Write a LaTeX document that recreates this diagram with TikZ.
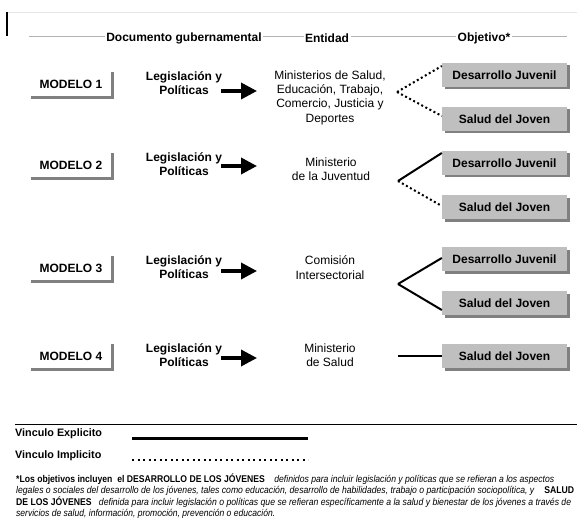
\documentclass[tikz,border=0pt]{standalone}
\usepackage{fontspec}
\setmainfont{Liberation Sans}
\usetikzlibrary{shadows,arrows.meta,calc}
\begin{document}
\begin{tikzpicture}[x=1pt,y=-1pt,
  every node/.style={inner sep=0pt},
  modelbox/.style={minimum width=80pt,minimum height=24pt,font=\bfseries\fontsize{12}{14}\selectfont},
  modelshadow/.style={draw=gray,line width=2.5pt},
  legis/.style={align=center,font=\bfseries\fontsize{12}{14.3}\selectfont},
  entity/.style={align=center,font=\fontsize{12}{14.3}\selectfont},
  objbox/.style={fill=gray!50,minimum width=125pt,minimum height=24pt,font=\bfseries\fontsize{12}{14}\selectfont,
    drop shadow={shadow xshift=2.5pt,shadow yshift=-2.5pt,fill=gray,opacity=1}},
  bigarrow/.style={line width=3.5pt,-{Triangle[length=16pt,width=16pt]}},
  explicit/.style={line width=2pt},
  implicit/.style={line width=2pt,dash pattern=on 2pt off 2.6pt},
  header/.style={font=\bfseries\fontsize{12}{14}\selectfont,fill=white,inner xsep=1.5pt,inner ysep=1pt},
  legendtext/.style={anchor=west,font=\bfseries\fontsize{10.8}{12}\selectfont},
  foot/.style={anchor=west,font=\fontsize{9.8}{11}\selectfont},
]
\useasboundingbox (0,0) rectangle (577,529);
\fill[white] (0,0) rectangle (577,529);

% top rules
\coordinate (t0) at (8,12);
\coordinate (t1) at (577,12);
\draw[gray!20,line width=0.6pt] (t0) -- (t1);
\coordinate (v0) at (7,12);
\coordinate (v1) at (7,36);
\draw[black,line width=1.5pt] (v0) -- (v1);
\coordinate (h0) at (29,36);
\coordinate (h1) at (567,36);
\draw[gray!60,line width=0.8pt] (h0) -- (h1);

% headers
\node[header] (hd1) at (184,38) {Documento gubernamental};
\node[header] (hd2) at (327,38) {Entidad};
\node[header] (hd3) at (484,38) {Objetivo*};

% ---------- MODELO boxes
\foreach \i/\y in {1/84,2/165,3/268,4/356}{
  \node[modelbox] (m\i) at (71,\y) {MODELO \i};
  \draw[modelshadow] ([xshift=1.25pt]m\i.north east) -- ([xshift=1.25pt,yshift=-1.25pt]m\i.south east) -- ([yshift=-1.25pt]m\i.south west);
}

% ---------- Legislacion
\node[legis] (l1) at (184,83) {Legislación y\\Políticas};
\node[legis] (l2) at (184,164) {Legislación y\\Políticas};
\node[legis] (l3) at (184,267) {Legislación y\\Políticas};
\node[legis] (l4) at (184,355) {Legislación y\\Políticas};

% ---------- arrows
\foreach \i/\y in {1/91,2/166,3/271,4/358}{
  \coordinate (as\i) at (221,\y);
  \coordinate (ae\i) at (257,\y);
  \draw[bigarrow] (as\i) -- (ae\i);
}

% ---------- Entidades
\node[entity] (e1) at (330,97.5) {Ministerios de Salud,\\Educación, Trabajo,\\Comercio, Justicia y\\Deportes};
\node[entity] (e2) at (331,169.5) {Ministerio\\de la Juventud};
\node[entity] (e3) at (330,267.5) {Comisión\\Intersectorial};
\node[entity] (e4) at (330,355) {Ministerio\\de Salud};

% ---------- Objetivos
\node[objbox] (o11) at (504.5,75) {Desarrollo Juvenil};
\node[objbox] (o12) at (504.5,119) {Salud del Joven};
\node[objbox] (o21) at (504.5,163) {Desarrollo Juvenil};
\node[objbox] (o22) at (504.5,207) {Salud del Joven};
\node[objbox] (o31) at (504.5,259) {Desarrollo Juvenil};
\node[objbox] (o32) at (504.5,303) {Salud del Joven};
\node[objbox] (o4) at (504.5,356) {Salud del Joven};

% ---------- connectors
\coordinate (c1) at (397,92);
\coordinate (c2) at (398,181);
\coordinate (c3) at (398,284);
\coordinate (c4) at (398,356);
\draw[implicit] (c1) -- ($(o11.west)+(0,-9)$);
\draw[implicit] (c1) -- ($(o12.west)+(0,-3)$);
\draw[explicit] (c2) -- ($(o21.west)+(0,-10)$);
\draw[implicit] (c2) -- ($(o22.west)+(0,-1)$);
\draw[explicit] (c3) -- ($(o31.west)+(0,-1)$);
\draw[explicit] (c3) -- ($(o32.west)+(0,7)$);
\draw[explicit] (c4) -- (o4.west);

% ---------- legend
\coordinate (s0) at (15,424);
\coordinate (s1) at (577,424);
\draw[black,line width=1pt] (s0) -- (s1);
\node[legendtext] (lg1) at (15,434) {Vinculo Explicito};
\node[legendtext] (lg2) at (15,456) {Vinculo Implicito};
\coordinate (le0) at (132,438);
\coordinate (le1) at (308,438);
\draw[line width=3pt] (le0) -- (le1);
\coordinate (li0) at (132,460);
\coordinate (li1) at (308,460);
\draw[line width=2.2pt,dash pattern=on 2.4pt off 3.1pt] (li0) -- (li1);

% ---------- footnote
\node[foot] (f1) at (16,479) {\resizebox{538pt}{\height}{\textbf{*Los objetivos incluyen\ \ el DESARROLLO DE LOS JÓVENES}\ \ \ \ \textit{definidos para incluir legislación y políticas que se refieran a los aspectos}}};
\node[foot] (f2) at (16,490.5) {\resizebox{558pt}{\height}{\textit{legales o sociales del desarrollo de los jóvenes, tales como educación, desarrollo de habilidades, trabajo o participación sociopolítica, y}\ \ \ \ \textbf{SALUD}}};
\node[foot] (f3) at (16,502) {\resizebox{555pt}{\height}{\textbf{DE LOS JÓVENES}\ \ \ \textit{definida para incluir legislación o políticas que se refieran específicamente a la salud y bienestar de los jóvenes a través de}}};
\node[foot] (f4) at (16,513.5) {\resizebox{259pt}{\height}{\textit{servicios de salud, información, promoción, prevención o educación.}}};
\end{tikzpicture}
\end{document}
